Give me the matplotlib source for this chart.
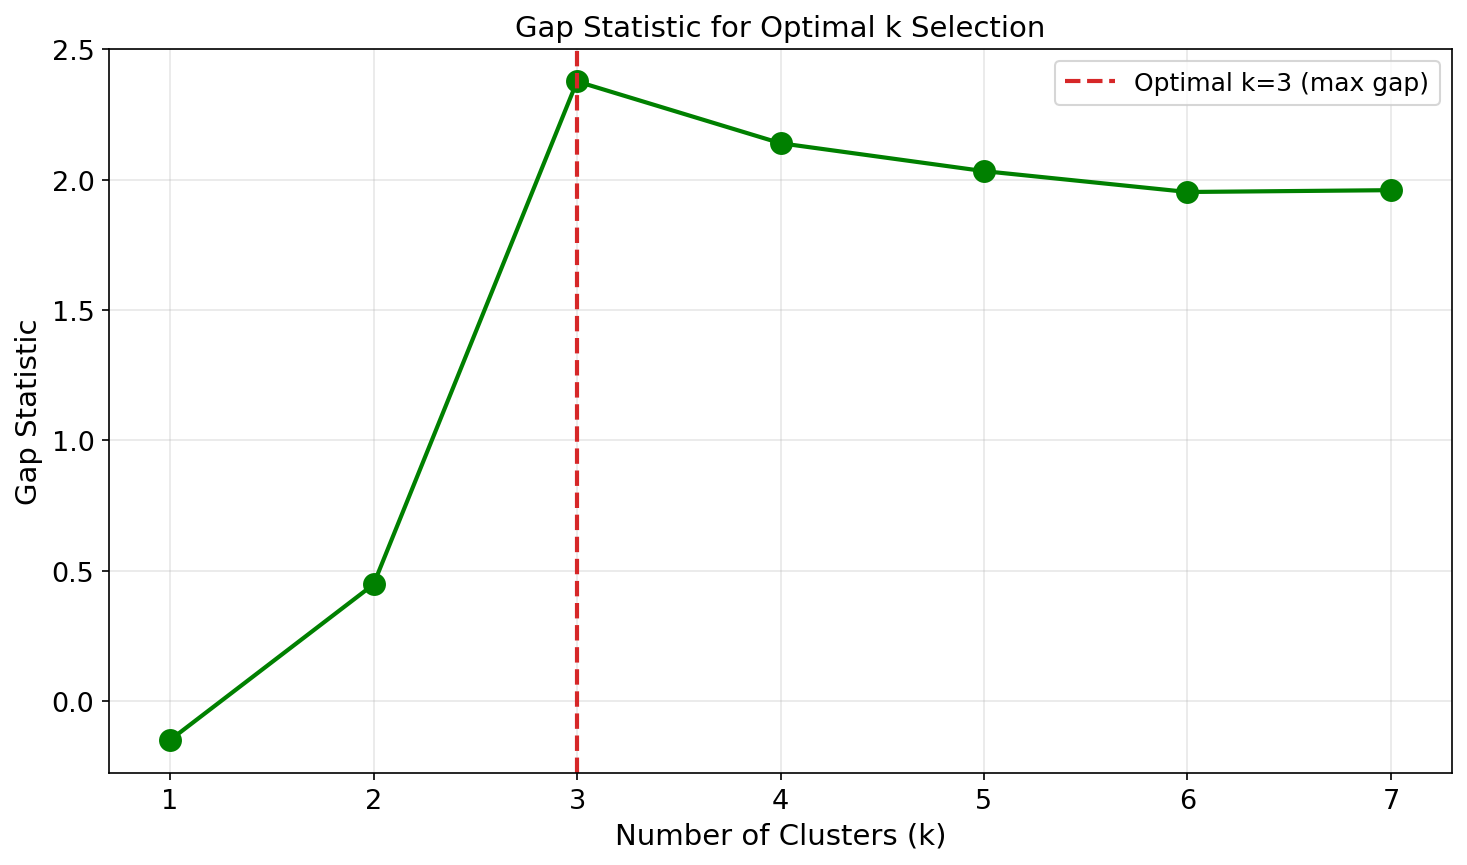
import matplotlib
matplotlib.use("Agg")
import matplotlib.pyplot as plt

k_values = [1, 2, 3, 4, 5, 6, 7]
gap_values = [-0.149, 0.448, 2.377, 2.140, 2.033, 1.953, 1.960]
optimal_k = 3

fig, ax = plt.subplots(figsize=(9.78, 5.7733), dpi=150)
ax.plot(k_values, gap_values, 'o-', color='green', linewidth=2, markersize=10)
ax.axvline(x=optimal_k, color='#d62728', linestyle='--', linewidth=2,
           label=f'Optimal k={optimal_k} (max gap)')
ax.set_xlabel('Number of Clusters (k)', fontsize=14)
ax.set_ylabel('Gap Statistic', fontsize=14)
ax.set_title('Gap Statistic for Optimal k Selection', fontsize=14)
ax.tick_params(labelsize=13)
ax.legend(fontsize=12)
ax.grid(True, alpha=0.3)
fig.subplots_adjust(left=109/1467, right=1452/1467, top=1-49.5/866, bottom=1-774/866)
fig.savefig('out.png', dpi=150)
